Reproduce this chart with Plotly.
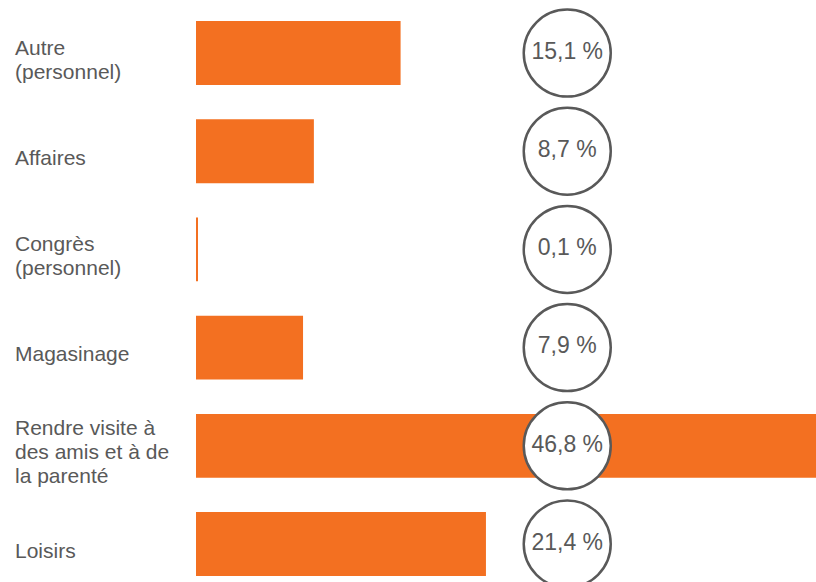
import plotly.graph_objects as go

# Motifs de voyage, part en %
categories = ["Autre<br>(personnel)", "Affaires", "Congrès<br>(personnel)",
              "Magasinage", "Rendre visite à<br>des amis et à de<br>la parenté", "Loisirs"]
values = [15.1, 8.7, 0.1, 7.9, 46.8, 21.4]

orange = "#F37021"
grey = "#595959"

idx = list(range(len(categories)))
labels = [f"{v:.1f} %".replace(".", ",") for v in values]

fig = go.Figure()

fig.add_trace(go.Bar(
    x=values,
    y=idx,
    orientation="h",
    width=0.65,
    marker=dict(color=orange, line=dict(width=0)),
    hoverinfo="skip",
))

# pourcentages dans des cercles
fig.add_trace(go.Scatter(
    x=[27.4] * len(values),
    y=idx,
    mode="markers+text",
    text=labels,
    textposition="middle center",
    textfont=dict(family="Liberation Sans, Arial", size=23, color=grey),
    marker=dict(size=87, color="white", line=dict(color=grey, width=2.5)),
    cliponaxis=False,
    hoverinfo="skip",
))

# libellés à gauche, une annotation par ligne pour un interligne plus serré
line_h = 24
for i, cat in enumerate(categories):
    lines = cat.split("<br>")
    n = len(lines)
    for k, txt in enumerate(lines):
        fig.add_annotation(
            x=-0.2955, xref="paper", y=i, yref="y",
            text=txt, showarrow=False,
            xanchor="left", yanchor="middle", align="left",
            yshift=-6 - (k - (n - 1) / 2) * line_h,
            font=dict(family="Liberation Sans, Arial", size=21, color=grey),
        )

fig.update_layout(
    width=816, height=582,
    margin=dict(l=196, r=0, t=0, b=0),
    paper_bgcolor="white",
    plot_bgcolor="white",
    showlegend=False,
    xaxis=dict(range=[0, 45.76], visible=False, fixedrange=True),
    yaxis=dict(range=[5.387, -0.54], visible=False, fixedrange=True),
)

fig.write_html("out.html", config={"displayModeBar": False},
               post_script="document.body.style.margin='0';document.body.style.overflow='hidden';")
